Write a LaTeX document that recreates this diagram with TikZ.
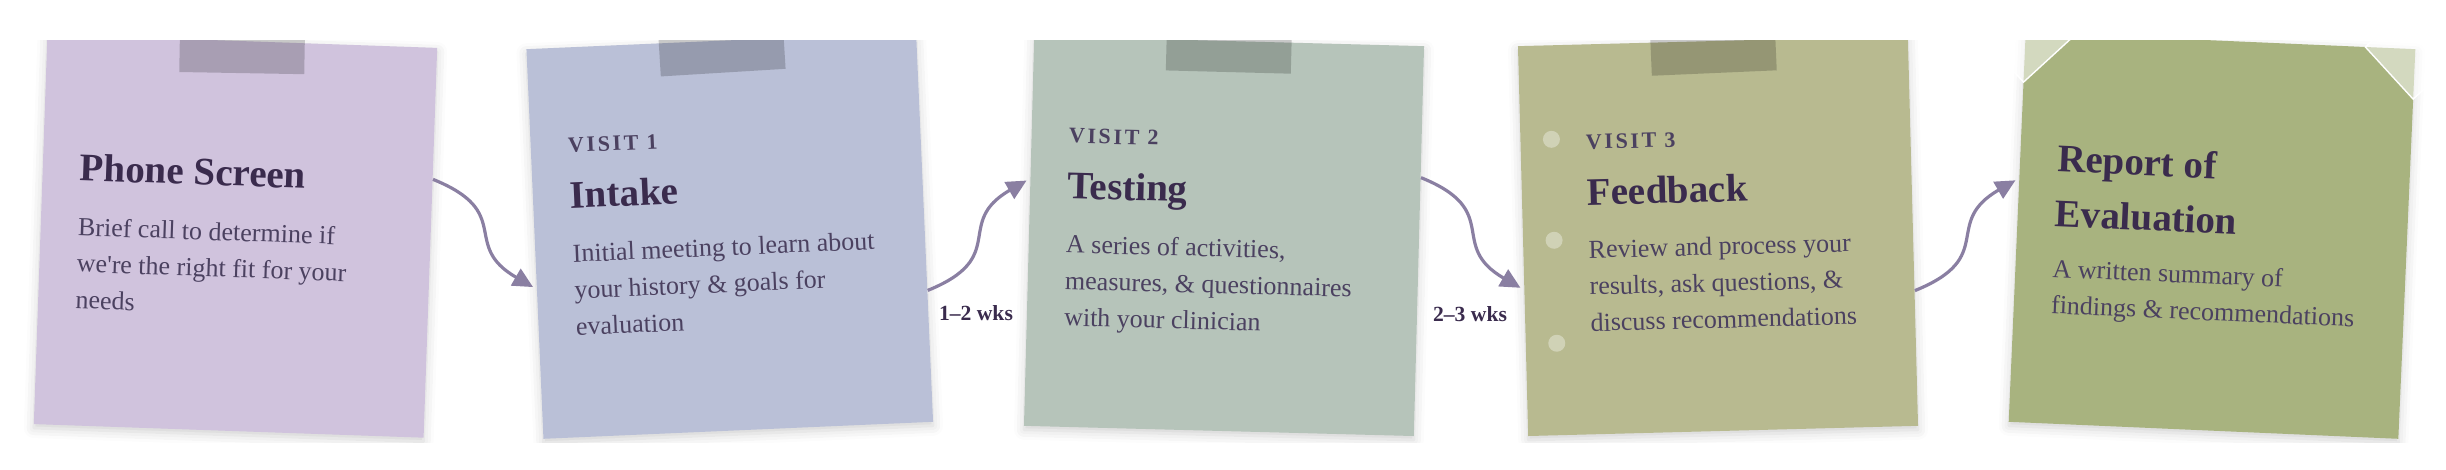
\documentclass[tikz,border=0pt]{standalone}
\usepackage{fontspec}
\setmainfont{Liberation Serif}
\newfontfamily\visitfont[LetterSpace=12]{Liberation Serif}
\usetikzlibrary{arrows.meta,shadows.blur}

\definecolor{notelilac}{HTML}{D0C3DD}
\definecolor{noteblue}{HTML}{BAC0D7}
\definecolor{notesage}{HTML}{B6C4BA}
\definecolor{notekhaki}{HTML}{B8BA90}
\definecolor{notegreen}{HTML}{A8B37F}
\definecolor{inkdark}{HTML}{3A2B4D}
\definecolor{inkbody}{HTML}{4B4160}
\definecolor{arrowline}{HTML}{8A7FA2}

\tikzset{
  note/.style={rectangle, minimum width=195pt, minimum height=195pt, inner sep=0pt,
    blur shadow={shadow xshift=0pt, shadow yshift=-2pt, shadow blur radius=5pt, shadow opacity=18}},
  tape/.style={rectangle, minimum width=62.5pt, minimum height=32pt, inner sep=0pt,
    fill=black, fill opacity=0.19},
  notetitle/.style={anchor=base west, inner sep=0pt, align=left, text=inkdark,
    font=\fontsize{19.5pt}{27.5pt}\selectfont\bfseries},
  visitlabel/.style={anchor=base west, inner sep=0pt, text=inkbody,
    font=\fontsize{11pt}{12pt}\visitfont\bfseries},
  notebody/.style={anchor=base west, inner sep=0pt, align=left, text=inkbody,
    font=\fontsize{13pt}{18.25pt}\selectfont},
  gaplabel/.style={anchor=base, inner sep=0pt, text=inkdark,
    font=\fontsize{10.8pt}{13pt}\selectfont\bfseries},
  flow/.style={draw=arrowline, line width=1.6pt, -{Triangle[length=10pt,width=9.5pt]},
    shorten >=2pt, looseness=1.5},
  hole/.style={circle, minimum size=8.5pt, inner sep=0pt, fill=white, fill opacity=0.35},
  mount/.style={fill=white, fill opacity=0.5, draw=white, line width=0.7pt}
}

\begin{document}
\begin{tikzpicture}[x=0.5pt, y=0.5pt]
  \useasboundingbox (0,0) rectangle (2446,470);
  \clip (0,27) rectangle (2446,429);

  % Phone screen
  \begin{scope}[shift={(235.5,234)}, rotate=-2, transform shape]
    \node[note, fill=notelilac] (n1) at (0,0) {};
    \node[tape, rotate=1] (t1) at (0,195) {};
    \node[notetitle] (n1title) at (-158,50) {Phone Screen};
    % base of a wrapped node is its last line
    \node[notebody] (n1body) at (-158,-78) {Brief call to determine if\\we\textquotesingle re the right fit for your\\needs};
  \end{scope}

  % Visit 1
  \begin{scope}[shift={(729.75,234.5)}, rotate=2.5, transform shape]
    \node[note, fill=noteblue] (n2) at (0,0) {};
    \node[tape, rotate=1] (t2) at (0,195) {};
    \node[visitlabel] (n2visit) at (-158,90) {VISIT 1};
    \node[notetitle] (n2title) at (-158,34) {Intake};
    \node[notebody] (n2body) at (-158,-93) {Initial meeting to learn about\\your history \& goals for\\evaluation};
  \end{scope}

  % Visit 2
  \begin{scope}[shift={(1224,234)}, rotate=-1.5, transform shape]
    \node[note, fill=notesage] (n3) at (0,0) {};
    \node[tape] (t3) at (0,196) {};
    \node[visitlabel] (n3visit) at (-158,89) {VISIT 2};
    \node[notetitle] (n3title) at (-158,33) {Testing};
    \node[notebody] (n3body) at (-158,-94) {A series of activities,\\measures, \& questionnaires\\with your clinician};
  \end{scope}

  % Visit 3
  \begin{scope}[shift={(1718,234)}, rotate=1.5, transform shape]
    \node[note, fill=notekhaki] (n4) at (0,0) {};
    \node[tape, rotate=1] (t4) at (0,195) {};
    \node[hole] (h1) at (-164,101) {};
    \node[hole] (h2) at (-164,0) {};
    \node[hole] (h3) at (-164,-103) {};
    \node[visitlabel] (n4visit) at (-130,90) {VISIT 3};
    \node[notetitle] (n4title) at (-130,34) {Feedback};
    \node[notebody] (n4body) at (-130,-92) {Review and process your\\results, ask questions, \&\\discuss recommendations};
  \end{scope}

  % Report
  \begin{scope}[shift={(2212,234.5)}, rotate=-2.5, transform shape]
    \node[note, fill=notegreen] (n5) at (0,0) {};
    % photo corners
    \draw[mount] (-245,195) -- (-195,145) -- (-145,195) -- (-195,245) -- cycle;
    \draw[mount] (145,195) -- (195,145) -- (245,195) -- (195,245) -- cycle;
    \node[notetitle] (n5title) at (-158,2) {Report of\\Evaluation};
    \node[notebody] (n5body) at (-158,-85) {A written summary of\\findings \& recommendations};
  \end{scope}

  % Arrows
  \draw[flow] (n1.18) to[out=-22, in=150] (n2.193);
  \draw[flow] (n2.-18) to[out=22, in=-150] (n3.165);
  \draw[flow] (n3.18) to[out=-22, in=150] (n4.194);
  \draw[flow] (n4.-17) to[out=22, in=-150] (n5.166);

  % Gaps
  \node[gaplabel] (wk12) at (976,149) {1--2 wks};
  \node[gaplabel] (wk23) at (1470,148) {2--3 wks};
\end{tikzpicture}
\end{document}
